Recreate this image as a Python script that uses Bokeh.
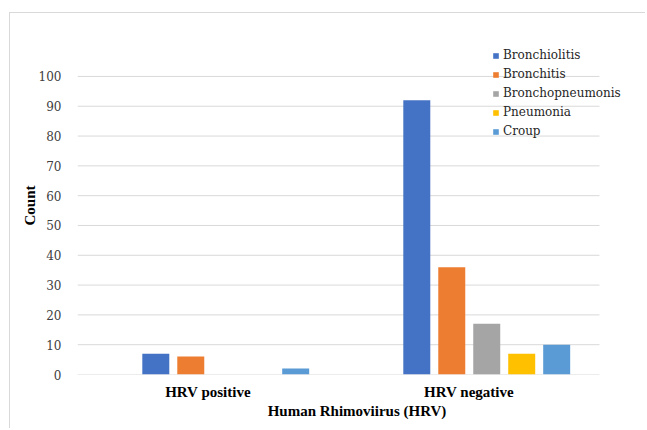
from bokeh.plotting import figure
from bokeh.models import Range1d, FixedTicker, Legend, LegendItem, ColumnDataSource
from bokeh.embed import file_html
from bokeh.resources import INLINE

groups = ["HRV positive", "HRV negative"]
series = ["Bronchiolitis", "Bronchitis", "Bronchopneumonis", "Pneumonia", "Croup"]
bronchiolitis = [7, 92]
bronchitis = [6, 36]
bronchopneumonis = [0, 17]
pneumonia = [0, 7]
croup = [2, 10]
colors = ["#4472C4", "#ED7D31", "#A5A5A5", "#FFC000", "#5B9BD5"]
y_ticks = [0, 10, 20, 30, 40, 50, 60, 70, 80, 90, 100]

values = [bronchiolitis, bronchitis, bronchopneumonis, pneumonia, croup]
group_pos = [i + 0.5 for i in range(len(groups))]

SERIF_BOLD = "Liberation Serif"   # bold face available
SERIF = "DejaVu Serif"            # regular serif face

p = figure(x_range=Range1d(0, 2.1418), y_range=Range1d(0, 113.4),
           width=636, height=416, output_backend="svg", toolbar_location=None,
           min_border_left=67, min_border_right=10, min_border_top=23, min_border_bottom=55,
           styles={"margin-left": "9px", "margin-top": "12px",
                   "border-left": "1px solid #d9d9d9", "border-top": "1px solid #d9d9d9"})
p.outline_line_color = None
p.background_fill_color = "white"
p.border_fill_color = "white"

# gridlines limited to the category span
p.xgrid.grid_line_color = None
p.ygrid.grid_line_color = None
p.segment(x0=[0] * len(y_ticks), x1=[len(groups)] * len(y_ticks), y0=y_ticks, y1=y_ticks,
          line_color="#d9d9d9", line_width=1, level="underlay")

items = []
offsets = [-0.2 + i * 0.134 for i in range(5)]
for s, c, off, v in zip(series, colors, offsets, values):
    src = ColumnDataSource(dict(x=[g + off for g in group_pos], top=v))
    r = p.vbar(x="x", top="top", width=0.1034, source=src, fill_color=c, line_color=None)
    items.append(LegendItem(label=s, renderers=[r]))

legend = Legend(items=items, location=(415, 236), padding=0, margin=0,
                glyph_width=7, glyph_height=7, label_height=14, spacing=5,
                label_standoff=4, label_text_font=SERIF, label_text_font_size="12px",
                label_text_color="#262626", background_fill_alpha=0, border_line_color=None)
p.add_layout(legend)

p.yaxis.ticker = FixedTicker(ticks=y_ticks)
p.yaxis.axis_line_color = None
p.yaxis.major_tick_line_color = None
p.yaxis.minor_tick_line_color = None
p.yaxis.major_label_text_font = SERIF
p.yaxis.major_label_text_font_size = "12px"
p.yaxis.major_label_text_color = "#404040"
p.yaxis.major_label_standoff = 10
p.yaxis.axis_label = "Count"
p.yaxis.axis_label_text_font = SERIF_BOLD
p.yaxis.axis_label_text_font_style = "bold"
p.yaxis.axis_label_text_font_size = "15px"
p.yaxis.axis_label_text_color = "#000000"
p.yaxis.axis_label_standoff = -2

p.xaxis.ticker = FixedTicker(ticks=group_pos)
p.xaxis.major_label_overrides = {g: name for g, name in zip(group_pos, groups)}
p.xaxis.axis_line_color = None
p.xaxis.major_tick_line_color = None
p.xaxis.minor_tick_line_color = None
p.xaxis.major_label_text_font = SERIF_BOLD
p.xaxis.major_label_text_font_style = "bold"
p.xaxis.major_label_text_font_size = "15px"
p.xaxis.major_label_text_color = "#000000"
p.xaxis.major_label_standoff = 3
p.xaxis.axis_label = "Human Rhimoviirus (HRV)"
p.xaxis.axis_label_text_font = SERIF_BOLD
p.xaxis.axis_label_text_font_style = "bold"
p.xaxis.axis_label_text_font_size = "15px"
p.xaxis.axis_label_text_color = "#000000"
p.xaxis.axis_label_standoff = 0

open("out.html", "w").write(file_html(p, INLINE))
